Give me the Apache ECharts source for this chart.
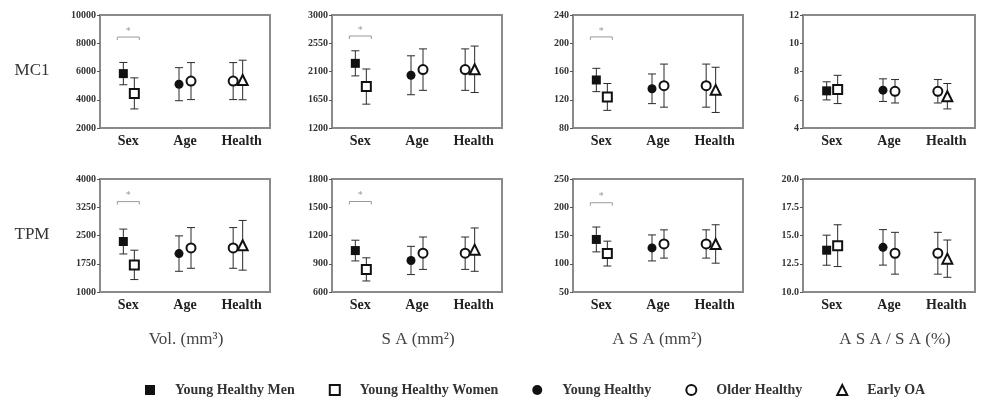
<!DOCTYPE html>
<html>
<head>
<meta charset="utf-8">
<script src="https://cdn.jsdelivr.net/npm/echarts@6/dist/echarts.min.js"></script>
<style>
  html, body { margin: 0; padding: 0; background: #fff; }
  #main { width: 982px; height: 403px; }
</style>
</head>
<body>
<div id="main"></div>
<script>
const categories = ["Sex", "Age", "Health"];
const groupNames = ["Young Healthy Men", "Young Healthy Women", "Young Healthy", "Older Healthy", "Early OA"];
// each panel has six points: men, women (Sex) / young, older (Age) / older, early OA (Health)
const pointCategory = [0, 0, 1, 1, 2, 2];
const pointGroup = [0, 1, 2, 3, 3, 4];

const mc1VolMean = [5850, 4450, 5100, 5320, 5320, 5400];
const mc1VolSD = [790, 1100, 1170, 1310, 1310, 1400];
const mc1SAMean = [2230, 1860, 2040, 2130, 2130, 2135];
const mc1SASD = [200, 280, 310, 330, 330, 370];
const mc1ASAMean = [148, 124, 135.5, 140, 140, 134];
const mc1ASASD = [16.5, 19, 21, 30.5, 30.5, 32];
const mc1PctMean = [6.63, 6.73, 6.68, 6.6, 6.6, 6.25];
const mc1PctSD = [0.64, 1.0, 0.8, 0.83, 0.83, 0.9];

const tpmVolMean = [2340, 1720, 2020, 2170, 2170, 2240];
const tpmVolSD = [330, 390, 470, 540, 540, 660];
const tpmSAMean = [1040, 840, 935, 1012, 1012, 1050];
const tpmSASD = [110, 123, 150, 172, 172, 230];
const tpmASAMean = [143, 118, 128, 135, 135, 135];
const tpmASASD = [22, 22, 23, 25, 25, 34];
const tpmPctMean = [13.7, 14.1, 13.95, 13.43, 13.43, 12.95];
const tpmPctSD = [1.33, 1.85, 1.57, 1.85, 1.85, 1.65];

const mc1VolTicks = [2000, 4000, 6000, 8000, 10000];
const mc1SATicks = [1200, 1650, 2100, 2550, 3000];
const mc1ASATicks = [80, 120, 160, 200, 240];
const mc1PctTicks = [4, 6, 8, 10, 12];
const tpmVolTicks = [1000, 1750, 2500, 3250, 4000];
const tpmSATicks = [600, 900, 1200, 1500, 1800];
const tpmASATicks = [50, 100, 150, 200, 250];
const tpmPctTicks = [10, 12.5, 15, 17.5, 20];

// height of the "*" bracket over Sex (null = none)
const mc1Significance = [8440, 2665, 209, null];
const tpmSignificance = [3400, 1561, 208, null];

const rowLabels = ["MC1", "TPM"];
const measureTitles = ["Vol. (mm³)", "S A (mm²)", "A S A (mm²)", "A S A / S A (%)"];

const panels = [
  { mean: mc1VolMean, sd: mc1VolSD, ticks: mc1VolTicks, sig: mc1Significance[0] },
  { mean: mc1SAMean, sd: mc1SASD, ticks: mc1SATicks, sig: mc1Significance[1] },
  { mean: mc1ASAMean, sd: mc1ASASD, ticks: mc1ASATicks, sig: mc1Significance[2] },
  { mean: mc1PctMean, sd: mc1PctSD, ticks: mc1PctTicks, sig: mc1Significance[3] },
  { mean: tpmVolMean, sd: tpmVolSD, ticks: tpmVolTicks, sig: tpmSignificance[0] },
  { mean: tpmSAMean, sd: tpmSASD, ticks: tpmSATicks, sig: tpmSignificance[1] },
  { mean: tpmASAMean, sd: tpmASASD, ticks: tpmASATicks, sig: tpmSignificance[2] },
  { mean: tpmPctMean, sd: tpmPctSD, ticks: tpmPctTicks, sig: tpmSignificance[3], decimals: 1 },
];

// layout and styles
const colLeft = [100, 332, 573, 803];
const colWidth = [170, 170, 170, 172];
const rowTop = [15, 179];
const plotHeight = 113;
const markerOffsets = [-5, 6, -6, 6, -8.5, 1];
const groupSymbols = ["rect", "emptyRect", "circle", "emptyCircle", "emptyTriangle"];
const groupSizes = [9, 9, 9, 9, 10];
const serif = "'Liberation Serif', 'DejaVu Serif', serif";
const borderGrey = "#8a8a8a";
const ink = "#111";

function errorBarSeries(p, idx) {
  return {
    type: "custom",
    xAxisIndex: idx,
    yAxisIndex: idx,
    z: 2,
    silent: true,
    encode: { x: 0, y: [1, 2] },
    data: p.mean.map((m, i) => [pointCategory[i], m - p.sd[i], m + p.sd[i]]),
    renderItem(params, api) {
      const off = markerOffsets[params.dataIndex];
      const lo = api.coord([api.value(0), api.value(1)]);
      const hi = api.coord([api.value(0), api.value(2)]);
      const x = lo[0] + off;
      const w = 4;
      const style = { stroke: "#2a2a2a", lineWidth: 1 };
      return {
        type: "group",
        children: [
          { type: "line", shape: { x1: x, y1: hi[1], x2: x, y2: lo[1] }, style },
          { type: "line", shape: { x1: x - w, y1: hi[1], x2: x + w, y2: hi[1] }, style },
          { type: "line", shape: { x1: x - w, y1: lo[1], x2: x + w, y2: lo[1] }, style },
        ],
      };
    },
  };
}

function bracketSeries(level, idx) {
  return {
    type: "custom",
    xAxisIndex: idx,
    yAxisIndex: idx,
    z: 2,
    silent: true,
    data: [[0, level]],
    renderItem(params, api) {
      const c = api.coord([api.value(0), api.value(1)]);
      const half = 11;
      const style = { stroke: "#9a9a9a", lineWidth: 1, fill: null };
      return {
        type: "group",
        children: [
          {
            type: "polyline",
            shape: { points: [[c[0] - half, c[1] + 3], [c[0] - half, c[1]], [c[0] + half, c[1]], [c[0] + half, c[1] + 3]] },
            style,
          },
          {
            type: "text",
            x: c[0],
            y: c[1] - 1,
            style: { text: "*", fill: "#9a9a9a", font: "10px " + serif, align: "center", verticalAlign: "bottom" },
          },
        ],
      };
    },
  };
}

const grids = [];
const xAxes = [];
const yAxes = [];
const series = [];

panels.forEach((p, idx) => {
  const row = Math.floor(idx / 4);
  const col = idx % 4;
  grids.push({
    left: colLeft[col],
    top: rowTop[row],
    width: colWidth[col],
    height: plotHeight,
    show: true,
    borderColor: borderGrey,
    borderWidth: 2,
  });
  xAxes.push({
    type: "category",
    gridIndex: idx,
    data: categories,
    axisLine: { lineStyle: { color: borderGrey, width: 2 } },
    axisTick: { alignWithLabel: true, length: 3, lineStyle: { color: "#555" } },
    axisLabel: { color: "#222", fontFamily: serif, fontWeight: "bold", fontSize: 14, margin: 6 },
    splitLine: { show: false },
  });
  yAxes.push({
    type: "value",
    gridIndex: idx,
    min: p.ticks[0],
    max: p.ticks[p.ticks.length - 1],
    axisLine: { show: true, lineStyle: { color: borderGrey, width: 2 } },
    axisTick: { show: true, length: 3, customValues: p.ticks, lineStyle: { color: "#555" } },
    axisLabel: {
      customValues: p.ticks,
      color: "#333",
      fontFamily: serif,
      fontWeight: "bold",
      fontSize: 10,
      margin: 4,
      formatter: (v) => (p.decimals ? Number(v).toFixed(p.decimals) : String(v)),
    },
    splitLine: { show: false },
  });
  series.push(errorBarSeries(p, idx));
  p.mean.forEach((m, i) => {
    const g = pointGroup[i];
    const empty = groupSymbols[g].startsWith("empty");
    series.push({
      type: "scatter",
      name: groupNames[g],
      xAxisIndex: idx,
      yAxisIndex: idx,
      z: 3,
      symbol: groupSymbols[g],
      symbolSize: groupSizes[g],
      symbolOffset: [markerOffsets[i], 0],
      itemStyle: { color: ink, borderColor: ink, borderWidth: empty ? 1.8 : 0, opacity: 1 },
      data: [[pointCategory[i], m]],
    });
  });
  if (p.sig != null) series.push(bracketSeries(p.sig, idx));
});

const graphics = [];
rowLabels.forEach((t, r) => {
  graphics.push({
    type: "text",
    x: 32,
    y: rowTop[r] + 56,
    style: { text: t, font: "17px " + serif, fill: "#333", align: "center", verticalAlign: "middle" },
  });
});
const titleCenters = [186, 418, 657, 895];
measureTitles.forEach((t, c) => {
  graphics.push({
    type: "text",
    x: titleCenters[c],
    y: 340,
    style: { text: t, font: "17px " + serif, fill: "#444", align: "center", verticalAlign: "middle" },
  });
});

const option = {
  animation: false,
  backgroundColor: "#fff",
  grid: grids,
  xAxis: xAxes,
  yAxis: yAxes,
  series: series,
  graphic: graphics,
  legend: {
    left: 140,
    top: 378,
    itemWidth: 10,
    itemHeight: 10,
    itemGap: 34,
    selectedMode: false,
    data: groupNames.map((n, g) => ({
      name: n,
      icon: groupSymbols[g],
      itemStyle: { color: ink, borderColor: ink, borderWidth: groupSymbols[g].startsWith("empty") ? 2.2 : 0, opacity: 1 },
    })),
    textStyle: { color: "#333", fontFamily: serif, fontWeight: "bold", fontSize: 14, padding: [0, 0, 0, 15] },
  },
};

addEventListener("load", () => {
  const chart = echarts.init(document.getElementById("main"));
  chart.setOption(option);
});
</script>
</body>
</html>
